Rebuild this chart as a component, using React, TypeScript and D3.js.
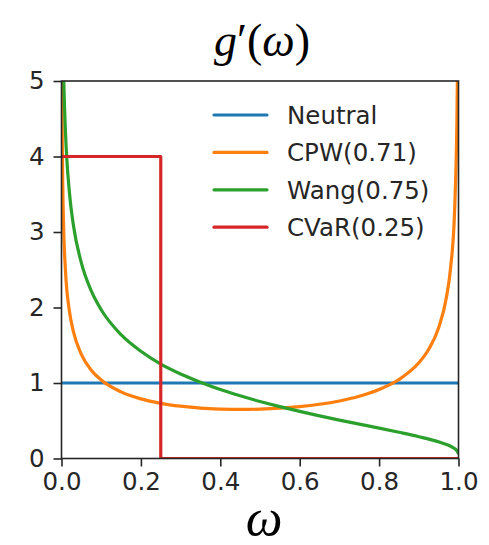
import React, { useEffect, useRef } from "react"
import * as d3 from "d3"

// values
const cpwOmega = [0.001, 0.0015, 0.002, 0.003, 0.005, 0.01, 0.02, 0.03, 0.05, 0.075, 0.1, 0.15, 0.2, 0.25, 0.3, 0.35, 0.4, 0.45, 0.5, 0.55, 0.6, 0.65, 0.7, 0.75, 0.8, 0.85, 0.9, 0.925, 0.95, 0.97, 0.98, 0.99, 0.995, 0.996, 0.997, 0.998, 0.999]
const cpwValues = [5.17, 4.57, 4.18, 3.68, 3.13, 2.49, 1.95, 1.68, 1.38, 1.17, 1.04, 0.883, 0.79, 0.731, 0.693, 0.668, 0.655, 0.65, 0.654, 0.666, 0.687, 0.718, 0.762, 0.824, 0.913, 1.046, 1.267, 1.447, 1.732, 2.147, 2.52, 3.26, 4.16, 4.48, 4.93, 5.62, 7.0]

const wangOmega = [0.0005, 0.001, 0.002, 0.005, 0.007, 0.01, 0.02, 0.03, 0.05, 0.075, 0.1, 0.15, 0.2, 0.25, 0.3, 0.35, 0.4, 0.45, 0.5, 0.55, 0.6, 0.65, 0.7, 0.75, 0.8, 0.85, 0.9, 0.95, 0.97, 0.98, 0.99, 0.995, 0.999, 1.0]
const wangValues = [8.9, 7.66, 6.54, 5.21, 4.77, 4.32, 3.52, 3.09, 2.59, 2.22, 1.97, 1.64, 1.42, 1.25, 1.12, 1.01, 0.913, 0.83, 0.755, 0.687, 0.624, 0.565, 0.509, 0.455, 0.402, 0.347, 0.289, 0.22, 0.184, 0.162, 0.132, 0.109, 0.074, 0.06]

const cvarOmega = [0, 0.25, 0.25, 1]
const cvarValues = [4, 4, 0, 0]

const neutralOmega = [0, 1]
const neutralValues = [1, 1]

const seriesNames = ["Neutral", "CPW(0.71)", "Wang(0.75)", "CVaR(0.25)"]
const seriesColors = ["#1f77b4", "#ff7f0e", "#2ca02c", "#d62728"]
const xTicks = [0, 0.2, 0.4, 0.6, 0.8, 1.0]
const yTicks = [0, 1, 2, 3, 4, 5]

const W = 489
const H = 545
const left = 61.5
const right = 458.5
const top = 81
const bottom = 458.5
const ink = "#262626"

export default function App() {
  const ref = useRef<SVGSVGElement>(null)

  useEffect(() => {
    const svg = d3.select(ref.current)
    svg.selectAll("*").remove()

    const x = d3.scaleLinear().domain([0, 1]).range([left, right])
    const y = d3.scaleLinear().domain([0, 5]).range([bottom, top])

    svg.append("defs")
      .append("clipPath")
      .attr("id", "plotclip")
      .append("rect")
      .attr("x", left)
      .attr("y", top)
      .attr("width", right - left)
      .attr("height", bottom - top)

    const series = [
      neutralOmega.map((w, i) => [w, neutralValues[i]]),
      cpwOmega.map((w, i) => [w, cpwValues[i]]),
      wangOmega.map((w, i) => [w, wangValues[i]]),
      cvarOmega.map((w, i) => [w, cvarValues[i]]),
    ]

    const line = d3.line<number[]>()
      .x(d => x(d[0]))
      .y(d => y(d[1]))
      .curve(d3.curveMonotoneX)
    const straight = d3.line<number[]>()
      .x(d => x(d[0]))
      .y(d => y(d[1]))

    const lines = svg.append("g").attr("clip-path", "url(#plotclip)")
    series.forEach((s, i) => {
      lines.append("path")
        .attr("d", i == 3 ? straight(s) : line(s))
        .attr("fill", "none")
        .attr("stroke", seriesColors[i])
        .attr("stroke-width", 3.2)
        .attr("stroke-linejoin", "round")
    })

    // axes
    const xAxis = svg.append("g")
      .attr("transform", `translate(0,${bottom})`)
      .call(d3.axisBottom(x).tickValues(xTicks).tickFormat(d3.format(".1f")).tickSizeOuter(0).tickSize(8).tickPadding(6))
    const yAxis = svg.append("g")
      .attr("transform", `translate(${left},0)`)
      .call(d3.axisLeft(y).tickValues(yTicks).tickFormat(d3.format("d")).tickSizeOuter(0).tickSize(8).tickPadding(9))
    ;[xAxis, yAxis].forEach(a => {
      a.select(".domain").remove()
      a.selectAll("line").attr("stroke", ink).attr("stroke-width", 1.6)
      a.selectAll("text")
        .attr("fill", ink)
        .attr("font-family", "DejaVu Sans")
        .attr("font-size", 24.5)
    })

    svg.append("rect")
      .attr("x", left)
      .attr("y", top)
      .attr("width", right - left)
      .attr("height", bottom - top)
      .attr("fill", "none")
      .attr("stroke", ink)
      .attr("stroke-width", 1.6)

    // legend
    const legend = svg.append("g")
    seriesNames.forEach((name, i) => {
      const ly = 115 + i * 37.4
      legend.append("line")
        .attr("x1", 214).attr("x2", 267)
        .attr("y1", ly).attr("y2", ly)
        .attr("stroke", seriesColors[i])
        .attr("stroke-width", 3.2)
        .attr("stroke-linecap", "round")
      legend.append("text")
        .attr("x", 287)
        .attr("y", ly)
        .attr("dy", "0.36em")
        .attr("fill", ink)
        .attr("font-family", "DejaVu Sans")
        .attr("font-size", 24.5)
        .text(name)
    })

    // title and x label
    const title = svg.append("text")
      .attr("x", (left + right) / 2 + 2)
      .attr("y", 56)
      .attr("text-anchor", "middle")
      .attr("font-family", "Liberation Serif")
      .attr("font-size", 46)
      .attr("fill", "#000")
    title.append("tspan").attr("font-style", "italic").text("g")
    title.append("tspan").text("′(")
    title.append("tspan").attr("font-style", "italic").text("ω")
    title.append("tspan").text(")")

    svg.append("text")
      .attr("x", (left + right) / 2 + 4)
      .attr("y", 535)
      .attr("text-anchor", "middle")
      .attr("font-family", "Liberation Serif")
      .attr("font-style", "italic")
      .attr("font-size", 52)
      .attr("fill", "#000")
      .text("ω")
  }, [])

  return (
    <svg ref={ref} width={W} height={H}
      style={{ position: "absolute", left: 0, top: 0, background: "#fff" }} />
  )
}
